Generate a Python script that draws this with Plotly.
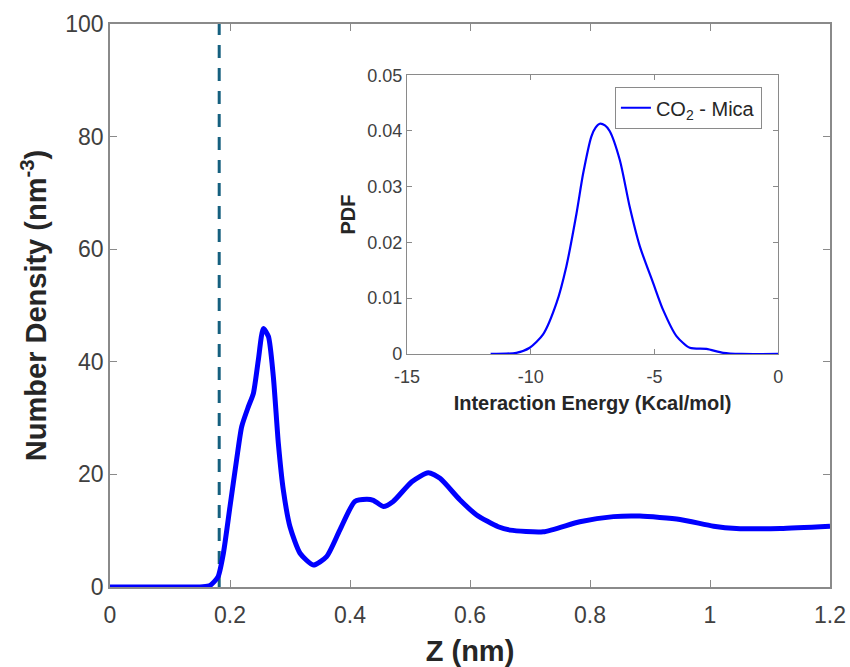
import plotly.graph_objects as go

# Main curve: number density vs Z
z_nm = [0.0, 0.05, 0.10, 0.14, 0.155, 0.167, 0.18, 0.189, 0.2, 0.211, 0.2195, 0.2305, 0.239,
        0.2472, 0.2555, 0.264, 0.2722, 0.2806, 0.2889, 0.3, 0.3167, 0.339, 0.361, 0.383,
        0.408, 0.428, 0.439, 0.4555, 0.472, 0.503, 0.5305, 0.55, 0.583, 0.611, 0.647,
        0.667, 0.722, 0.783, 0.839, 0.883, 0.95, 1.006, 1.044, 1.117, 1.2]
density = [0.0, 0.0, 0.0, 0.0, 0.05, 0.3, 1.8, 6.0, 14.3, 22.6, 28.5, 32.0, 34.4,
           40.3, 45.9, 44.5, 37.4, 25.5, 17.2, 10.7, 6.0, 3.9, 5.4, 10.1,
           15.2, 15.6, 15.4, 14.3, 15.2, 18.7, 20.3, 19.3, 15.5, 12.8, 10.7,
           10.1, 9.8, 11.6, 12.5, 12.6, 12.0, 10.8, 10.4, 10.4, 10.8]
z_wall = 0.182
x_ticks = [0, 0.2, 0.4, 0.6, 0.8, 1.0, 1.2]
x_ticklabels = ["0", "0.2", "0.4", "0.6", "0.8", "1", "1.2"]
y_ticks = [0, 20, 40, 60, 80, 100]

# Inset: PDF of interaction energy
energy = [-11.62, -10.58, -10.04, -9.5, -8.96, -8.56, -8.15, -7.88, -7.55, -7.38, -7.21, -7.0,
          -6.81, -6.4, -6.0, -5.59, -5.05, -4.65, -4.11, -3.57, -2.9, -2.22, -1.5, 0.0]
pdf = [0.0, 0.0002, 0.0011, 0.0035, 0.0091, 0.0157, 0.0252, 0.0324, 0.0390, 0.0406, 0.0413, 0.0410,
       0.0400, 0.0348, 0.0264, 0.0193, 0.0127, 0.0079, 0.0032, 0.0011, 0.0009, 0.0002, 0.0, 0.0]
e_ticks = [-15, -10, -5, 0]
e_ticklabels = ["-15", "-10", "-5", "0"]
p_ticks = [0, 0.01, 0.02, 0.03, 0.04, 0.05]
p_ticklabels = ["0", "0.01", "0.02", "0.03", "0.04", "0.05"]

FONT = "Liberation Sans, Arial, sans-serif"
TICKC = "#404040"
TITC = "#262626"
AXC = "#8a8a8a"

fig = go.Figure()
fig.add_trace(go.Scatter(x=[z_wall, z_wall], y=[0, 100], mode="lines",
                         line=dict(color="#16607F", width=3, dash="13px,10px"),
                         showlegend=False, xaxis="x", yaxis="y"))
fig.add_trace(go.Scatter(x=z_nm, y=density, mode="lines",
                         line=dict(color="#0000FF", width=5, shape="spline", smoothing=0.6),
                         showlegend=False, xaxis="x", yaxis="y"))
fig.add_trace(go.Scatter(x=energy, y=pdf, mode="lines",
                         line=dict(color="#0000FF", width=2.2, shape="spline", smoothing=0.7),
                         name="CO<sub>2</sub> - Mica", showlegend=True, xaxis="x2", yaxis="y2"))

fig.update_layout(
    width=850, height=667,
    margin=dict(l=110, r=20, t=24, b=80, autoexpand=False),
    paper_bgcolor="white", plot_bgcolor="white",
    font=dict(family=FONT, color=TICKC),
    xaxis=dict(domain=[0, 1], range=[0, 1.2], tickvals=x_ticks, ticktext=x_ticklabels, automargin=False,
               ticks="inside", ticklen=7, tickcolor=AXC, showline=True, linecolor=AXC, linewidth=1.5,
               mirror="ticks", showgrid=False, zeroline=False, ticklabelstandoff=7,
               tickfont=dict(size=23, color=TICKC),
               title=dict(text="<b>Z (nm)</b>", font=dict(size=29, color=TITC), standoff=14)),
    yaxis=dict(domain=[0, 1], range=[0, 100], tickvals=y_ticks, automargin=False,
               ticks="inside", ticklen=7, tickcolor=AXC, showline=True, linecolor=AXC, linewidth=1.5,
               mirror="ticks", showgrid=False, zeroline=False,
               tickfont=dict(size=23, color=TICKC),
               title=dict(text="<b>Number Density (nm<sup>-3</sup>)</b>", font=dict(size=29, color=TITC), standoff=10)),
    xaxis2=dict(domain=[0.4125, 0.928], anchor="y2", range=[-15, 0], tickvals=e_ticks, ticktext=e_ticklabels,
                automargin=False, ticklabelstandoff=6,
                ticks="inside", ticklen=5, tickcolor=AXC, showline=True, linecolor=AXC, linewidth=1.2,
                mirror="ticks", showgrid=False, zeroline=False,
                tickfont=dict(size=18, color=TICKC),
                title=dict(text="<b>Interaction Energy (Kcal/mol)</b>", font=dict(size=20, color=TITC), standoff=10)),
    yaxis2=dict(domain=[0.414, 0.909], anchor="x2", range=[0, 0.05], automargin=False,
                tickvals=p_ticks, ticktext=p_ticklabels,
                ticks="inside", ticklen=5, tickcolor=AXC, showline=True, linecolor=AXC, linewidth=1.2,
                mirror="ticks", showgrid=False, zeroline=False,
                tickfont=dict(size=18, color=TICKC),
                title=dict(text="<b>PDF</b>", font=dict(size=20, color=TITC), standoff=6)),
    legend=dict(x=0.701, y=0.888, xanchor="left", yanchor="top", bgcolor="white",
                bordercolor=AXC, borderwidth=1.2, font=dict(size=20, color=TITC),
                tracegroupgap=0, itemwidth=30),
)

fig.write_html("out.html")
